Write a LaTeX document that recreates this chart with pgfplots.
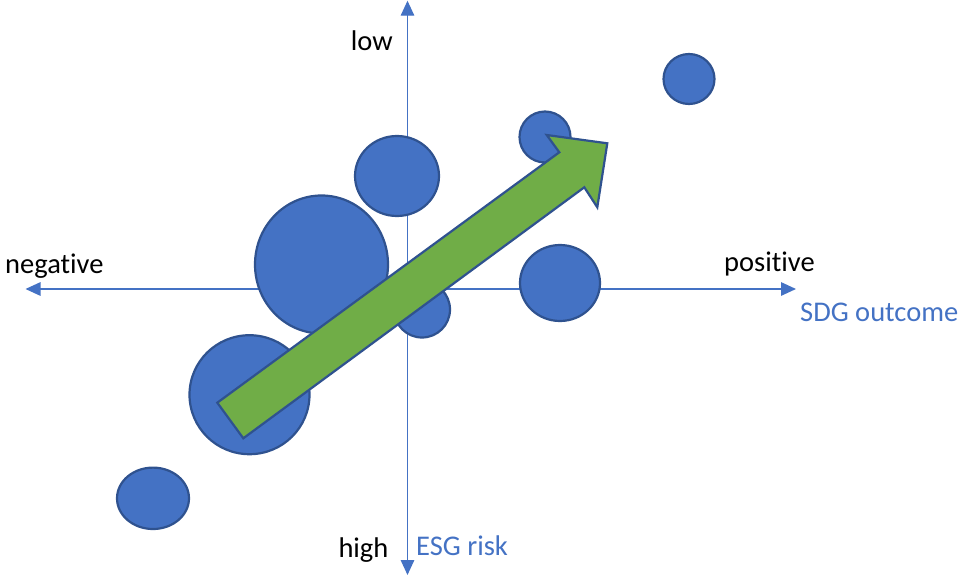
\documentclass[border=0pt]{standalone}
\usepackage{fontspec}
\setmainfont{Carlito}[Ligatures={NoCommon}]
\usepackage{pgfplots}
\usepackage{pgfplotstable}
\pgfplotsset{compat=1.18}
\usetikzlibrary{arrows.meta}
\definecolor{bubblefill}{HTML}{4472C4}
\definecolor{bubbleedge}{HTML}{2F528F}
\definecolor{arrowgreen}{HTML}{70AD47}
\definecolor{axisblue}{HTML}{4472C4}
\newcommand{\lblfont}{\fontsize{28.5pt}{34pt}\selectfont}

% bubbles: centre (x,y) in picture units, radii rx, ry
\pgfplotstableread{
x     y      rx    ry
689   79     25.5  25
545   137    25.5  25.5
397   176    42    40
321.5 264.5  66.5  69
422   309.5  28    28
560   283    40    38
249.5 394.7  60    59.5
153   498.3  36    30.7
}\bubbles

% green arrow outline
\pgfplotstableread{
x      y
217.3  402.7
559.3  152.3
546.7  135
607.3  143.3
597.3  207.3
584.3  187.3
243.3  438.3
217.3  402.7
}\trend

\begin{document}
\begin{tikzpicture}
\begin{axis}[
  scale only axis,
  width=961pt, height=575pt,
  xmin=0, xmax=961, ymin=0, ymax=575,
  y dir=reverse,
  hide axis,
  clip=false,
  clip mode=individual,
]
% frame the picture (invisible)
\addplot[draw=none, forget plot] coordinates {(0,0) (961,575)};

% axes with arrows
\addplot[axisblue, line width=1.4pt,
  {Triangle[length=15pt,width=13.5pt]}-{Triangle[length=15pt,width=13.5pt]}]
  coordinates {(25.5,289) (796,289)};
\addplot[axisblue, line width=1.4pt,
  {Triangle[length=15pt,width=13.5pt]}-{Triangle[length=15pt,width=13.5pt]}]
  coordinates {(407.5,0.7) (407.5,575)};

% bubbles
\addplot[scatter, only marks, mark=*,
  scatter/use mapped color={draw=bubbleedge, fill=bubblefill},
  mark options={line width=2.2pt},
  visualization depends on={\thisrow{rx} \as \rx},
  visualization depends on={\thisrow{ry} \as \ry},
  scatter/@pre marker code/.append style={/tikz/mark size=\ry, /tikz/xscale=\rx/\ry}]
  table[x=x, y=y] {\bubbles};

% trend arrow
\addplot[draw=bubbleedge, fill=arrowgreen, line width=2.2pt, line join=miter]
  table[x=x, y=y] {\trend} -- cycle;

% labels
\node[anchor=base west, inner sep=0pt, font=\lblfont] at (axis cs:5,273.3) {negative};
\node[anchor=base west, inner sep=0pt, font=\lblfont] at (axis cs:724,271.7) {positive};
\node[anchor=base west, inner sep=0pt, font=\lblfont, text=axisblue] at (axis cs:800,321.7) {SDG outcome};
\node[anchor=base west, inner sep=0pt, font=\lblfont] at (axis cs:350.7,50) {low};
\node[anchor=base west, inner sep=0pt, font=\lblfont] at (axis cs:338.3,557.5) {high};
\node[anchor=base west, inner sep=0pt, font=\lblfont, text=axisblue] at (axis cs:416,555.5) {ESG risk};
\end{axis}
\end{tikzpicture}
\end{document}
